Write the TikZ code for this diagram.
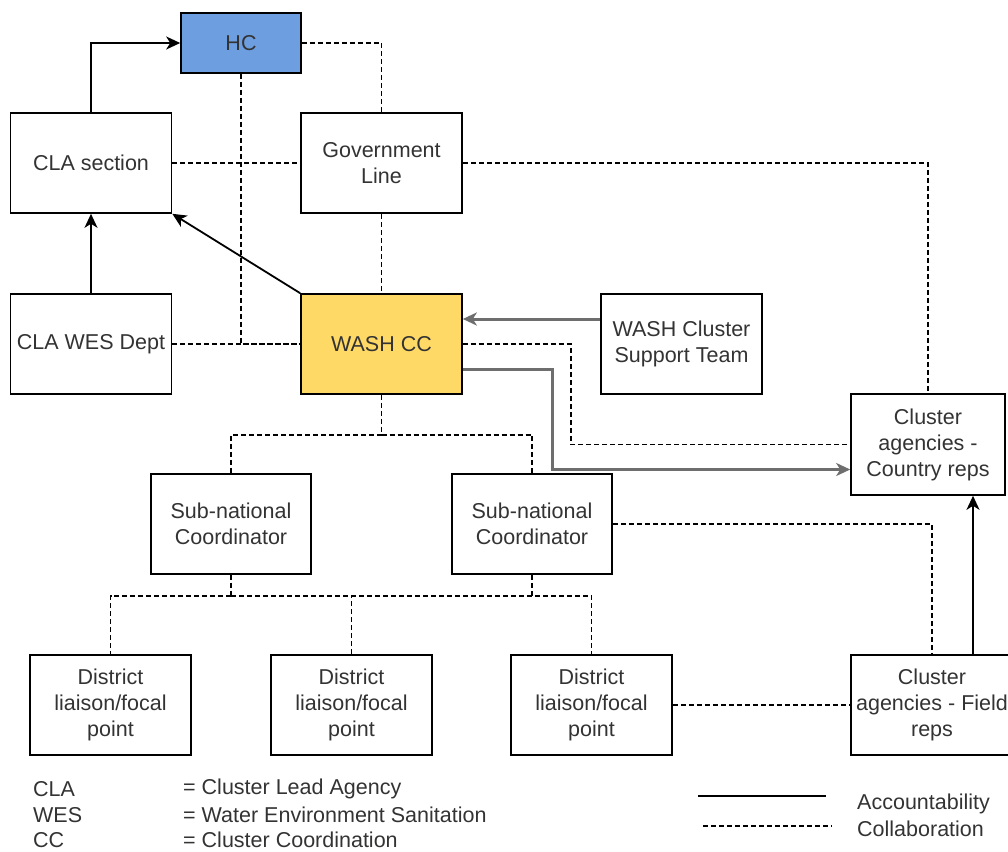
\documentclass[tikz,border=0pt]{standalone}
\usepackage{fontspec}
\setmainfont{Liberation Sans}
\usetikzlibrary{arrows.meta}
\definecolor{txt}{HTML}{333333}
\definecolor{hcblue}{HTML}{6D9EE0}
\definecolor{washyel}{HTML}{FFD966}
\definecolor{garr}{HTML}{6E6E6E}
\begin{document}
\begin{tikzpicture}[x=1pt,y=-1pt,
  box/.style={draw=black, line width=1.6pt, fill=white, minimum width=161pt, minimum height=100pt, align=center, text=txt, font=\fontsize{21.5}{26}\selectfont, inner sep=2pt},
  acc/.style={draw=black, line width=1.8pt, -{Stealth[length=14pt,width=13pt,inset=4pt]}},
  gacc/.style={draw=garr, line width=3pt, -{Stealth[length=14pt,width=13pt,inset=4pt]}},
  col/.style={draw=black, line width=1.4pt, dash pattern=on 5pt off 3pt},
  lgd/.style={anchor=west, text=txt, font=\fontsize{21.5}{25}\selectfont, inner sep=0pt}
]
\useasboundingbox (0,0) rectangle (1008,851);
% nodes
\node[box, fill=hcblue, minimum width=120pt, minimum height=60pt] (hc) at (241,43) {HC};
\node[box] (cla) at (91,163) {CLA section};
\node[box] (gov) at (381.5,163) {Government\\Line};
\node[box] (wes) at (91,344) {CLA WES Dept};
\node[box, fill=washyel] (wash) at (381.5,344) {WASH CC};
\node[box] (sup) at (681.5,344) {WASH Cluster\\Support Team};
\node[box, minimum width=154pt, minimum height=101pt] (cr) at (928,444.5) {Cluster\\agencies -\\Country reps};
\node[box, minimum width=160pt] (sub1) at (231,524) {Sub-national\\Coordinator};
\node[box, minimum width=160pt] (sub2) at (532,524) {Sub-national\\Coordinator};
\node[box] (d1) at (110.5,705) {District\\liaison/focal\\point};
\node[box] (d2) at (351.5,705) {District\\liaison/focal\\point};
\node[box] (d3) at (591.5,705) {District\\liaison/focal\\point};
\node[box, minimum width=162pt] (fr) at (932,705) {Cluster\\agencies - Field\\reps};
% connectors
\draw[acc] (cla.north) |- (hc.west);
\draw[col] (hc.east) -| (gov.north);
\draw[col] (hc.south) |- (wash.west);
\draw[col] (wes.east) -- (wash.west);
\draw[col] (cla.east) -- (gov.west);
\draw[col] (gov.east) -| (cr.north);
\draw[col] (gov.south) -- (wash.north);
\draw[acc] (wash.north west) -- (cla.south east);
\draw[acc] (wes.north) -- (cla.south);
\draw[gacc] ([yshift=25pt]sup.west) -- ([yshift=25pt]wash.east);
\draw[col] (wash.east) -- ++(108,0) |- (cr.west);
\draw[gacc] ([yshift=-25pt]wash.east) -- ++(90,0) |- ([yshift=-25pt]cr.west);
\coordinate (j1) at ([yshift=-40pt]wash.south);
\draw[col] (wash.south) -- (j1);
\draw[col] (j1) -| (sub1.north);
\draw[col] (j1) -| (sub2.north);
\coordinate (j2) at ([yshift=-21pt]sub1.south);
\draw[col] (sub1.south) -- (j2);
\draw[col] (j2) -| (d1.north);
\draw[col] (j2) -| (d3.north);
\draw[col] (d2.north) -- (d2.north |- j2);
\draw[col] (sub2.south) -- (sub2.south |- j2);
\draw[col] (sub2.east) -| (fr.north);
\draw[col] (d3.east) -- (fr.west);
\coordinate (fa) at ([xshift=41pt]fr.north);
\draw[acc] (fa) -- (fa |- cr.south);
% legend
\node[lgd] (l1) at (33,789) {CLA};
\node[lgd] (l2) at (33,815) {WES};
\node[lgd] (l3) at (33,840) {CC};
\node[lgd] (e1) at (183,789) {= Cluster Lead Agency};
\node[lgd] (e2) at (183,815) {= Water Environment Sanitation};
\node[lgd] (e3) at (183,840) {= Cluster Coordination};
\coordinate (s1) at (698,796);
\coordinate (s2) at (826,796);
\coordinate (c1) at (703,826);
\coordinate (c2) at (832,826);
\draw[line width=1.8pt] (s1) -- (s2);
\draw[col] (c1) -- (c2);
\node[lgd] (acct) at (857,804) {Accountability};
\node[lgd] (coll) at (857,829) {Collaboration};
\end{tikzpicture}
\end{document}
